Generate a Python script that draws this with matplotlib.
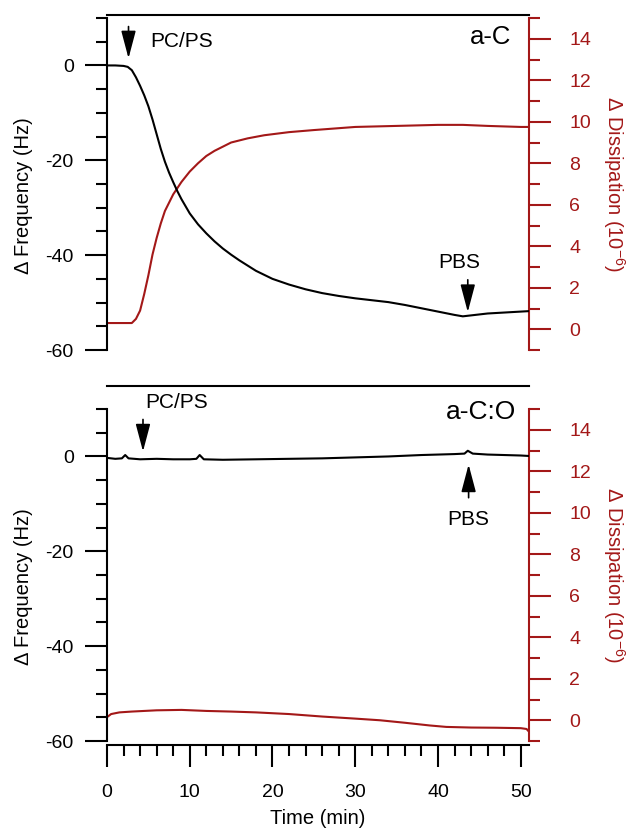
import matplotlib
matplotlib.use('Agg')
import matplotlib.pyplot as plt
from matplotlib.ticker import MultipleLocator

plt.rcParams['font.family'] = ['Liberation Sans', 'DejaVu Sans']
plt.rcParams['mathtext.fontset'] = 'custom'
plt.rcParams['mathtext.rm'] = 'Liberation Sans'
plt.rcParams['mathtext.it'] = 'Liberation Sans:italic'
plt.rcParams['axes.unicode_minus'] = False

RED = '#a31818'

# a-C : frequency shift (Hz)
t_freq_aC = [0, 1, 2, 2.5, 3.0, 3.5, 4.0, 4.5, 5.0, 5.5, 6.0, 6.5, 7.0, 7.5, 8.0,
             8.5, 9.0, 10, 11, 12, 13, 14, 15, 16, 18, 20, 22, 24, 26, 28, 30,
             32, 34, 36, 38, 40, 42, 43, 44, 46, 48, 50, 51]
freq_aC = [0.0, 0.0, -0.1, -0.3, -1.0, -2.5, -4.3, -6.3, -8.6, -11.4, -14.5,
           -17.6, -20.3, -22.6, -24.6, -26.5, -28.2, -31.2, -33.5, -35.4,
           -37.1, -38.6, -39.9, -41.1, -43.3, -45.0, -46.2, -47.2, -48.0,
           -48.6, -49.1, -49.5, -49.9, -50.5, -51.2, -51.9, -52.6, -52.9,
           -52.7, -52.3, -52.1, -51.9, -51.8]

# a-C : dissipation shift (1e-6)
t_diss_aC = [0, 2, 3.0, 3.5, 4.0, 4.5, 5.0, 5.5, 6.0, 6.5, 7.0, 7.5, 8.0, 9.0,
             10, 11, 12, 13, 14, 15, 17, 19, 22, 25, 30, 35, 40, 43, 46, 50, 51]
diss_aC = [0.3, 0.3, 0.3, 0.5, 0.9, 1.7, 2.6, 3.6, 4.4, 5.1, 5.7, 6.1, 6.5,
           7.1, 7.6, 8.0, 8.35, 8.6, 8.8, 9.0, 9.2, 9.35, 9.5, 9.6, 9.75, 9.8,
           9.85, 9.85, 9.8, 9.75, 9.75]

# a-C:O : frequency shift (Hz)
t_freq_aCO = [0, 1, 1.8, 2.2, 2.6, 4, 6, 8, 10, 10.8, 11.2, 11.7, 14, 18, 22,
              26, 30, 34, 38, 42, 43.2, 43.6, 44.2, 46, 48, 50, 51]
freq_aCO = [-0.3, -0.5, -0.4, 0.3, -0.4, -0.6, -0.5, -0.6, -0.6, -0.5, 0.3,
            -0.6, -0.7, -0.6, -0.5, -0.4, -0.2, 0.0, 0.3, 0.5, 0.6, 1.2, 0.6,
            0.4, 0.3, 0.2, 0.1]

# a-C:O : dissipation shift (1e-6)
t_diss_aCO = [0, 0.5, 1.5, 3, 6, 9, 12, 15, 18, 22, 26, 30, 33, 36, 39, 41, 44,
              47, 50, 50.7, 51]
diss_aCO = [0.15, 0.3, 0.38, 0.42, 0.48, 0.5, 0.45, 0.42, 0.38, 0.3, 0.18,
            0.08, 0.0, -0.12, -0.25, -0.32, -0.35, -0.36, -0.38, -0.42, -0.55]

fig = plt.figure(figsize=(6.35, 8.3), dpi=100)
ax_top = fig.add_axes([0.1685, 0.5783, 0.6646, 0.4])
ax_bot = fig.add_axes([0.1685, 0.1072, 0.6646, 0.4])


def style_panel(ax, top_offset, show_x):
    ax.set_xlim(0, 51)
    ax.set_ylim(-60, 10)
    ax.spines['left'].set_linewidth(1.5)
    ax.spines['top'].set_linewidth(1.5)
    ax.spines['top'].set_position(('outward', top_offset))
    ax.spines['right'].set_visible(False)
    ax.yaxis.set_major_locator(MultipleLocator(20))
    ax.yaxis.set_minor_locator(MultipleLocator(5))
    ax.tick_params(axis='y', which='major', length=16, width=1.5, pad=8,
                   labelsize=14, direction='out', right=False)
    ax.tick_params(axis='y', which='minor', length=8, width=1.5,
                   direction='out', right=False)
    if show_x:
        ax.spines['bottom'].set_linewidth(1.5)
        ax.spines['bottom'].set_position(('outward', 3))
        ax.xaxis.set_major_locator(MultipleLocator(10))
        ax.xaxis.set_minor_locator(MultipleLocator(2))
        ax.tick_params(axis='x', which='major', length=16, width=1.5, pad=12,
                       labelsize=14, direction='out', top=False)
        ax.tick_params(axis='x', which='minor', length=8, width=1.5,
                       direction='out', top=False)
    else:
        ax.spines['bottom'].set_visible(False)
        ax.tick_params(axis='x', which='both', bottom=False, top=False,
                       labelbottom=False)
    ax.text(-0.197, 0.464, '\u0394 Frequency (Hz)', transform=ax.transAxes,
            rotation=90, ha='center', va='center', fontsize=14.5)

    ax2 = ax.twinx()
    ax2.set_ylim(-1, 15)
    for s in ['left', 'top', 'bottom']:
        ax2.spines[s].set_visible(False)
    ax2.spines['right'].set_color(RED)
    ax2.spines['right'].set_linewidth(1.5)
    ax2.yaxis.set_major_locator(MultipleLocator(2))
    ax2.yaxis.set_minor_locator(MultipleLocator(1))
    ax2.yaxis.set_tick_params(which='major', length=16, width=1.5, pad=13,
                              labelsize=14, color=RED, labelcolor=RED,
                              direction='out', left=False, right=True)
    ax2.yaxis.set_tick_params(which='minor', length=8, width=1.5, color=RED,
                              direction='out', left=False, right=True)
    ax2.text(1.201, 0.5, r'$\Delta$ Dissipation (10$^{-6}$)',
             transform=ax.transAxes, rotation=270, ha='center', va='center',
             fontsize=14.5, color=RED)
    return ax2


ax_top2 = style_panel(ax_top, 2, False)
ax_bot2 = style_panel(ax_bot, 16.5, True)

ax_top.plot(t_freq_aC, freq_aC, color='black', lw=1.5)
ax_top2.plot(t_diss_aC, diss_aC, color=RED, lw=1.5)
ax_bot.plot(t_freq_aCO, freq_aCO, color='black', lw=1.5)
ax_bot2.plot(t_diss_aCO, diss_aCO, color=RED, lw=1.5)

ax_top2.set_zorder(ax_top.zorder - 1)
ax_top.patch.set_visible(False)
ax_bot2.set_zorder(ax_bot.zorder - 1)
ax_bot.patch.set_visible(False)

arrow_kw = dict(arrowstyle='-|>,head_length=1.7,head_width=0.45',
                color='black', lw=1.2, shrinkA=0, shrinkB=0, mutation_scale=10)

ax_top.annotate('', xy=(2.6, 1.5), xytext=(2.6, 8.2), arrowprops=arrow_kw)
ax_top.text(9.0, 5.1, 'PC/PS', ha='center', va='center', fontsize=15)
ax_top.annotate('', xy=(43.6, -52.0), xytext=(43.6, -45.2), arrowprops=arrow_kw)
ax_top.text(42.6, -41.6, 'PBS', ha='center', va='center', fontsize=15)
ax_top.text(48.9, 5.9, 'a-C', ha='right', va='center', fontsize=18.5)

ax_bot.annotate('', xy=(4.35, 1.05), xytext=(4.35, 7.8), arrowprops=arrow_kw)
ax_bot.text(8.4, 11.4, 'PC/PS', ha='center', va='center', fontsize=15)
ax_bot.annotate('', xy=(43.7, -1.7), xytext=(43.7, -8.7), arrowprops=arrow_kw)
ax_bot.text(43.6, -13.3, 'PBS', ha='center', va='center', fontsize=15)
ax_bot.text(49.5, 9.3, 'a-C:O', ha='right', va='center', fontsize=19)

ax_bot.set_xlabel('Time (min)', fontsize=14.5, labelpad=6)

fig.savefig('out.png', dpi=100)
